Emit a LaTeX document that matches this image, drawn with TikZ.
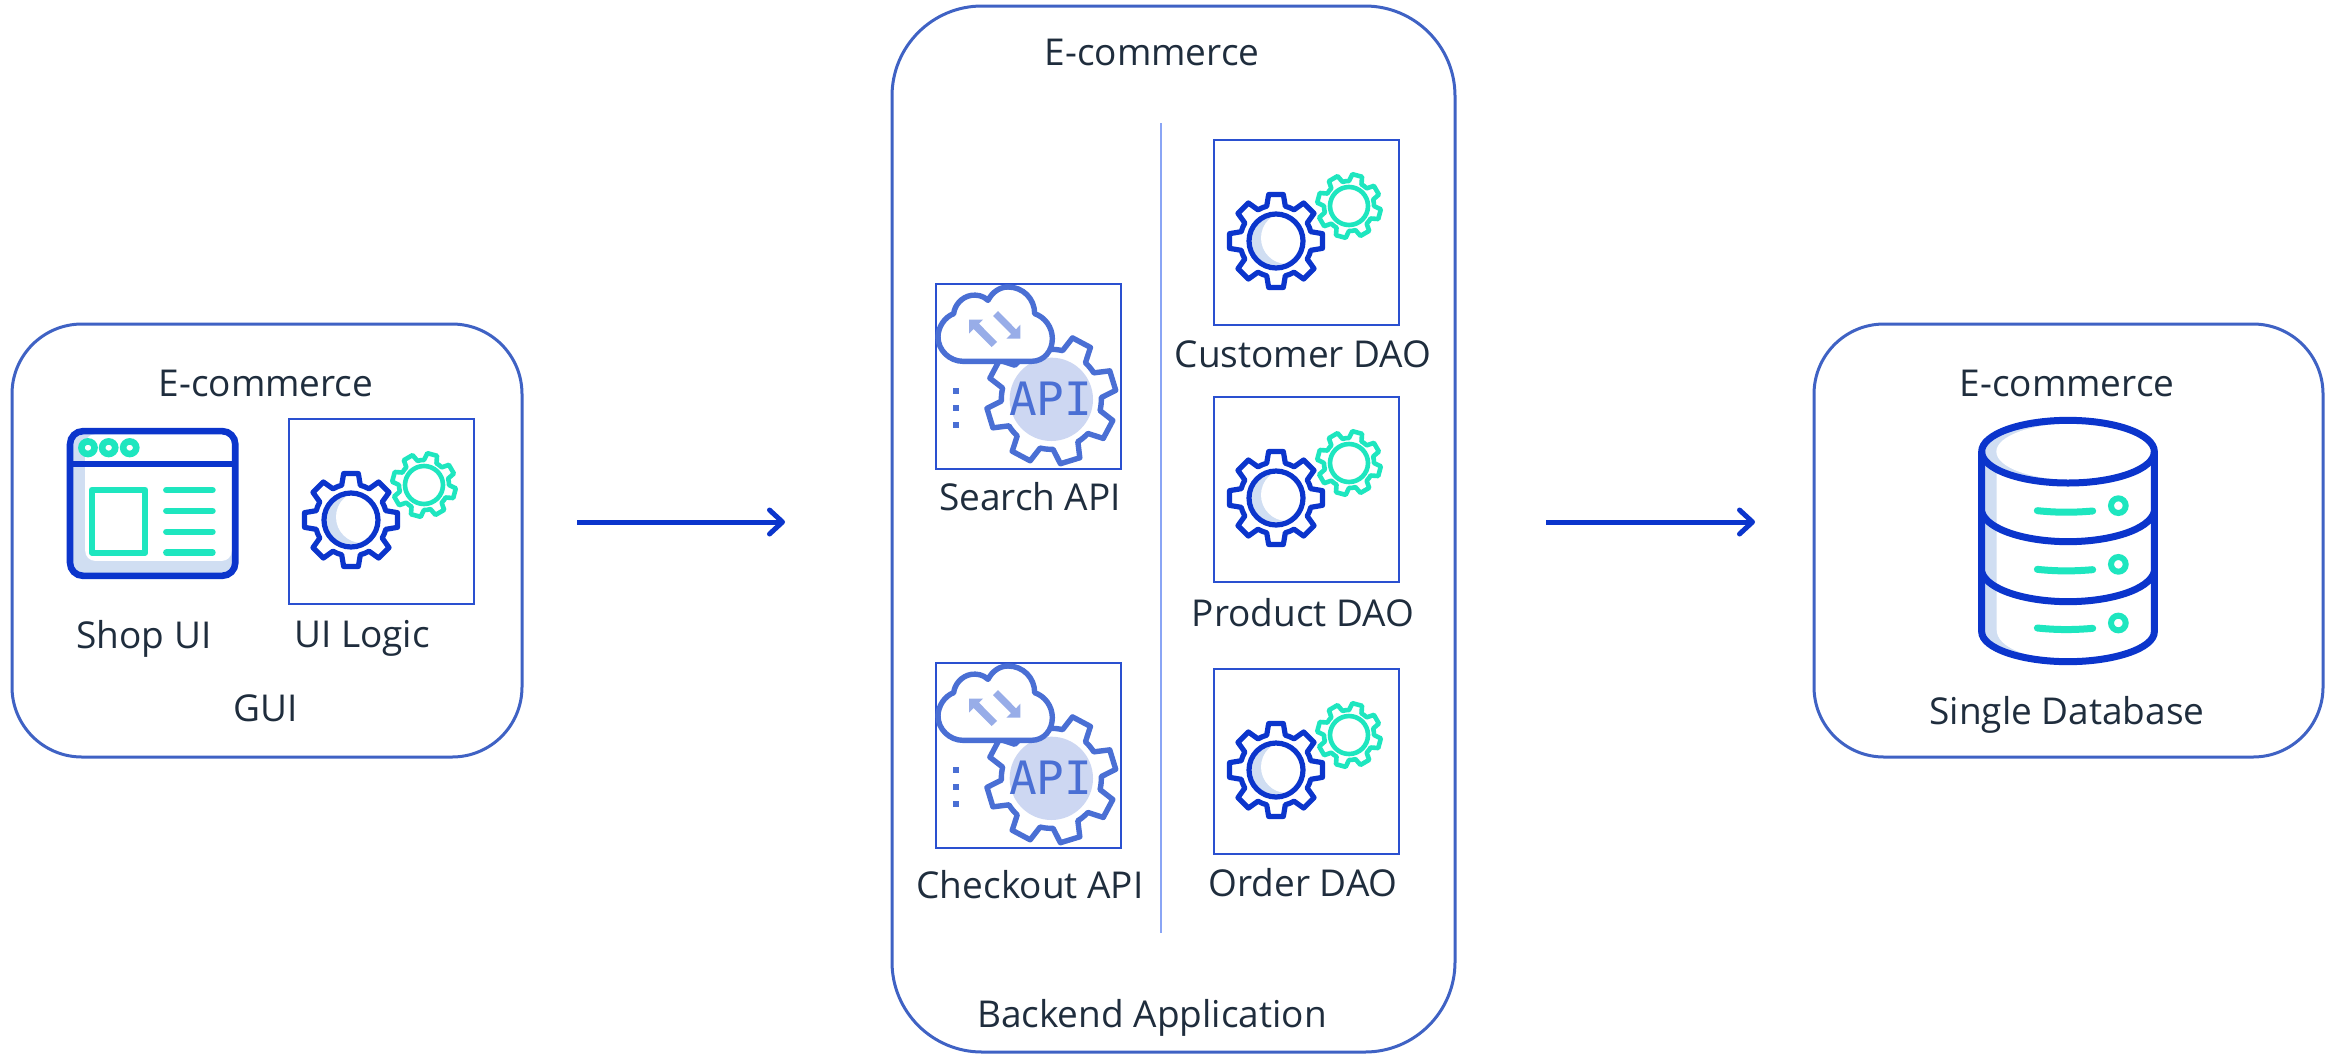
\documentclass[tikz,border=0pt]{standalone}
\usepackage{fontspec}
\setmainfont{Open Sans}
\newfontfamily\apifont{DejaVu Sans Mono}
\usetikzlibrary{arrows.meta}
\definecolor{ink}{HTML}{1F2D3D}
\definecolor{frameblue}{HTML}{3F62C4}
\definecolor{royal}{HTML}{0B35CC}
\definecolor{boxblue}{HTML}{2A50D0}
\definecolor{teal}{HTML}{1EE6BF}
\definecolor{pale}{HTML}{D0DEF2}
\definecolor{apiblue}{HTML}{4A6FD4}
\definecolor{apidisc}{HTML}{CDD7F2}
\definecolor{apiarrow}{HTML}{98ADE8}
\definecolor{divider}{HTML}{8AA5F5}
\tikzset{
  x=1pt,y=-1pt,
  frame/.style={draw=frameblue,line width=3pt,rounded corners=#1,fill=white},
  label/.style={font=\fontsize{37}{40}\selectfont,text=ink,inner sep=0pt,anchor=center,text depth=0pt},
  iconbox/.style={draw=boxblue,line width=2.4pt,fill=white,minimum width=185pt,minimum height=185pt,inner sep=0pt,anchor=north west},
  flow/.style={draw=royal,line width=5pt,-{Straight Barb[length=13pt,width=24pt,line width=5pt,round]}},
}
% #1 centre x, #2 centre y, #3 outer R, #4 root R, #5 angle offset, #6 draw options
\newcommand{\cog}[6]{%
  \begin{scope}[shift={(#1,#2)}]
  \draw[#6,line join=round]
    (#5-15:#4)
    foreach \k in {0,...,7}{
      -- (#5+\k*45-9:#3) -- (#5+\k*45+9:#3) -- (#5+\k*45+15:#4) arc[start angle=#5+\k*45+15,end angle=#5+\k*45+30,radius=#4]
    } -- cycle;
  \end{scope}}
\newcommand{\gearicon}[2]{%
  \begin{scope}[shift={(#1,#2)}]
    \cog{63}{102}{47}{36}{0}{draw=royal,line width=5.2pt}
    \begin{scope}
      \clip (63,102) circle[radius=27];
      \fill[pale] (63,102) circle[radius=27];
      \fill[white] (74,99) circle[radius=26];
    \end{scope}
    \draw[royal,line width=5.2pt] (63,102) circle[radius=27];
    \cog{136}{67}{32}{25}{15}{draw=teal,line width=4.6pt}
    \draw[teal,line width=4.6pt] (136,67) circle[radius=19];
  \end{scope}}
\newcommand{\apiicon}[2]{%
  \begin{scope}[shift={(#1,#2)},scale=1/3,shift={(-46,-68)}]
    \fill[apidisc] (395,417) circle[radius=125];
    \cog{395}{417}{195}{150}{28}{draw=apiblue,line width=5.4pt}
    \node[font=\apifont\fontsize{46}{46}\selectfont,text=apiblue,inner sep=0pt] at (393,415) {API};
    \draw[apiblue,line width=5.4pt,fill=white,line join=round]
      (130,303) -- (335,303)
      .. controls (375,303) and (398,270) .. (398,235)
      .. controls (398,200) and (375,170) .. (345,160)
      .. controls (345,115) and (310,80) .. (265,80)
      .. controls (240,80) and (218,95) .. (205,120)
      .. controls (190,105) and (170,103) .. (155,105)
      .. controls (125,110) and (105,135) .. (102,160)
      .. controls (75,170) and (55,200) .. (55,230)
      .. controls (55,270) and (90,303) .. (130,303) -- cycle;
    \fill[apiarrow] (148,178) -- (190,178) -- (178,190) -- (232,245) -- (216,260) -- (162,206) -- (148,220) -- cycle;
    \fill[apiarrow] (302,235) -- (260,235) -- (274,221) -- (220,167) -- (235,152) -- (289,207) -- (302,193) -- cycle;
    \foreach \yy in {392,442,493}{\fill[apiblue] (101,\yy-9) rectangle (119,\yy+9);}
  \end{scope}}
\begin{document}
\begin{tikzpicture}
\useasboundingbox (0,0) rectangle (2333,1053);
\fill[white] (0,0) rectangle (2333,1053);

% frames
\node[frame=70pt,minimum width=510pt,minimum height=433pt,inner sep=0pt] (guiframe) at (267,540.5) {};
\node[frame=90pt,minimum width=563pt,minimum height=1046pt,inner sep=0pt] (apiframe) at (1173.5,529) {};
\node[frame=70pt,minimum width=509pt,minimum height=433pt,inner sep=0pt] (dbframe) at (2068.5,540.5) {};

% connectors
\coordinate (a1s) at (577,522); \coordinate (a1e) at (785,522);
\coordinate (a2s) at (1546,522); \coordinate (a2e) at (1755,522);
\draw[flow] (a1s) -- (a1e);
\draw[flow] (a2s) -- (a2e);

% divider
\coordinate (d1) at (1161,123); \coordinate (d2) at (1161,933);
\draw[divider,line width=2pt] (d1) -- (d2);

% icon boxes
\node[iconbox] (uilogic) at (287.5,418) {};
\node[iconbox] (searchapi) at (934.5,282.5) {};
\node[iconbox] (checkoutapi) at (934.5,661.5) {};
\node[iconbox] (customer) at (1212.5,138.5) {};
\node[iconbox] (product) at (1212.5,395.5) {};
\node[iconbox] (order) at (1212.5,667.5) {};

\gearicon{288}{418}
\gearicon{1213}{139}
\gearicon{1213}{396}
\gearicon{1213}{668}
\apiicon{935}{283}
\apiicon{935}{662}

% browser icon
\begin{scope}[shift={(0,311)},xscale=.345,yscale=.331]
  \fill[pale,rounded corners=12pt] (203,363) rectangle (682,800);
  \fill[white,rounded corners=10pt] (247,372) -- (672,372) -- (672,755) -- (247,755) -- cycle;
  \draw[royal,line width=6.6pt,rounded corners=13pt] (203,363) rectangle (682,800);
  \draw[royal,line width=5.8pt] (203,462) -- (682,462);
  \foreach \cx in {255,315,376}{\draw[teal,line width=6.6pt] (\cx,413) circle[radius=19];}
  \draw[teal,line width=5.8pt,line join=round] (266,540) rectangle (421,730);
  \foreach \yy in {541,604,667,730}{\draw[teal,line width=6.4pt,line cap=round] (482,\yy) -- (616,\yy);}
\end{scope}

% database icon
\begin{scope}[shift={(1950,400)},scale=1/3]
  \fill[pale] (95,155) -- (95,695) .. controls (95,745) and (215,785) .. (354,785) .. controls (493,785) and (613,745) .. (613,695) -- (613,155) -- cycle;
  \fill[white] (140,155) -- (140,690) .. controls (140,740) and (230,779) .. (354,779) .. controls (493,779) and (613,745) .. (613,695) -- (613,155) -- cycle;
  \fill[pale] (354,155) ellipse[x radius=259,y radius=94];
  \fill[white] (372,155) ellipse[x radius=233,y radius=85];
  \foreach \yy in {335,515}{
    \draw[royal,line width=7pt] (95,\yy) .. controls (110,\yy+55) and (230,\yy+90) .. (354,\yy+90) .. controls (478,\yy+90) and (598,\yy+55) .. (613,\yy);
  }
  \draw[royal,line width=7pt] (95,155) -- (95,695) .. controls (95,745) and (215,785) .. (354,785) .. controls (493,785) and (613,745) .. (613,695) -- (613,155);
  \draw[royal,line width=7pt] (354,155) ellipse[x radius=259,y radius=94];
  \foreach \dy in {0,176,352}{
    \draw[teal,line width=7pt,line cap=round] (262,332+\dy) .. controls (320,338+\dy) and (370,338+\dy) .. (428,333+\dy);
    \draw[teal,line width=6pt] (505,317+\dy) circle[radius=22];
  }
\end{scope}

% labels
\node[label] (t1) at (266,383) {E-commerce};
\node[label] (t2) at (144,634) {Shop UI};
\node[label] (t3) at (362,634) {UI Logic};
\node[label] (t4) at (266,708) {GUI};
\node[label] (t5) at (1152,52) {E-commerce};
\node[label] (t6) at (1030,496) {Search API};
\node[label] (t7) at (1030,884) {Checkout API};
\node[label] (t8) at (1303,354) {Customer DAO};
\node[label] (t9) at (1303,612) {Product DAO};
\node[label] (t10) at (1303,882) {Order DAO};
\node[label] (t11) at (1152,1013) {Backend Application};
\node[label] (t12) at (2067,383) {E-commerce};
\node[label] (t13) at (2067,710) {Single Database};
\end{tikzpicture}
\end{document}
